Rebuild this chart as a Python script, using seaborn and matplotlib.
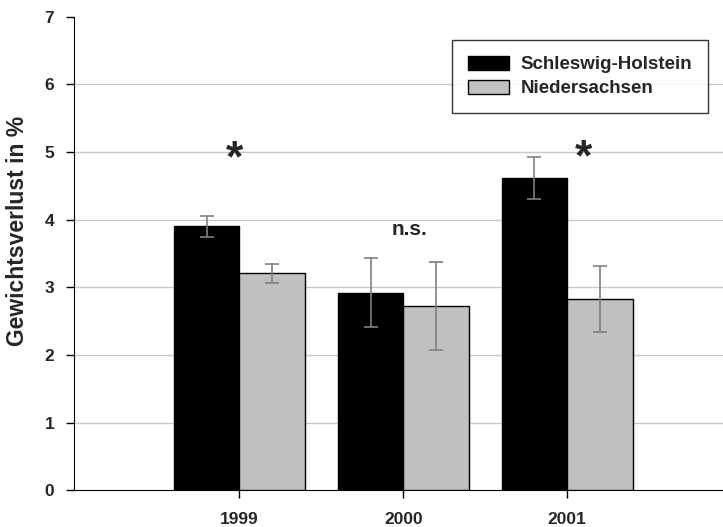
import pandas as pd
import matplotlib
matplotlib.use("Agg")
import matplotlib.pyplot as plt
import seaborn as sns

years = ["1999", "2000", "2001"]
states = ["Schleswig-Holstein", "Niedersachsen"]
sh_values = [3.90, 2.92, 4.62]
ns_values = [3.21, 2.72, 2.83]
sh_err = [0.16, 0.51, 0.31]
ns_err = [0.14, 0.65, 0.49]
marks = ["*", "n.s.", "*"]
y_ticks = [0, 1, 2, 3, 4, 5, 6, 7]

df = pd.DataFrame({
    "Jahr": years * 2,
    "Land": [states[0]] * 3 + [states[1]] * 3,
    "Verlust": sh_values + ns_values,
    "Fehler": sh_err + ns_err,
})

sns.set_style("white")
plt.rcParams["font.family"] = ["Liberation Sans", "DejaVu Sans"]
plt.rcParams["font.weight"] = "bold"

fig = plt.figure(figsize=(7.23, 5.27), dpi=100)
ax = fig.add_axes([0.102, 0.070, 0.898, 0.898])

sns.barplot(data=df, x="Jahr", y="Verlust", hue="Land", hue_order=states,
            palette=["black", "#c0c0c0"], edgecolor="black", linewidth=1,
            errorbar=None, width=0.8, saturation=1, ax=ax, zorder=3)

# error bars at the bar centres
for cont, errs in zip(ax.containers, [sh_err, ns_err]):
    for bar, e in zip(cont, errs):
        xc = bar.get_x() + bar.get_width() / 2
        ax.errorbar(xc, bar.get_height(), yerr=e, color="#808080",
                    elinewidth=1.2, capsize=5, capthick=1.2, zorder=4)

# significance labels above each pair
star_pos = [(-0.03, 4.88), (0.04, 3.85), (0.10, 4.90)]
for (dx, yy), m, i in zip(star_pos, marks, range(3)):
    if m == "*":
        ax.text(i + dx, yy, m, ha="center", va="center", fontsize=32,
                fontweight="bold")
    else:
        ax.text(i + dx, yy, m, ha="center", va="center", fontsize=15,
                fontweight="bold")

for t in y_ticks[1:-1]:
    ax.axhline(t, color="#c8c8c8", linewidth=1, zorder=1)

ax.set_xlim(-1.01, 2.95)
ax.set_ylim(0, 7)
ax.set_yticks(y_ticks)
ax.set_xlabel("")
ax.set_ylabel("Gewichtsverlust in %", fontsize=16.5, fontweight="bold")
ax.yaxis.set_label_coords(-0.069, 0.548)
ax.tick_params(axis="y", direction="out", length=6, width=1, color="black",
               labelsize=12.5, left=True, pad=8)
ax.tick_params(axis="x", direction="out", length=6, width=1, color="black",
               labelsize=12.5, bottom=True, pad=10)
for lab in ax.get_xticklabels() + ax.get_yticklabels():
    lab.set_fontweight("bold")

ax.spines["top"].set_visible(False)
ax.spines["right"].set_visible(False)
ax.spines["left"].set_color("black")
ax.spines["bottom"].set_color("black")

leg = ax.legend(loc="upper right", bbox_to_anchor=(0.977, 0.951), frameon=True,
                fancybox=False, edgecolor="black",
                prop={"weight": "bold", "size": 13.5}, handlelength=2.2,
                handleheight=0.76, handletextpad=0.6, borderpad=0.85,
                labelspacing=0.35, borderaxespad=0)
leg.get_frame().set_linewidth(1)
leg.set_title(None)

fig.savefig("out.png", dpi=100)
